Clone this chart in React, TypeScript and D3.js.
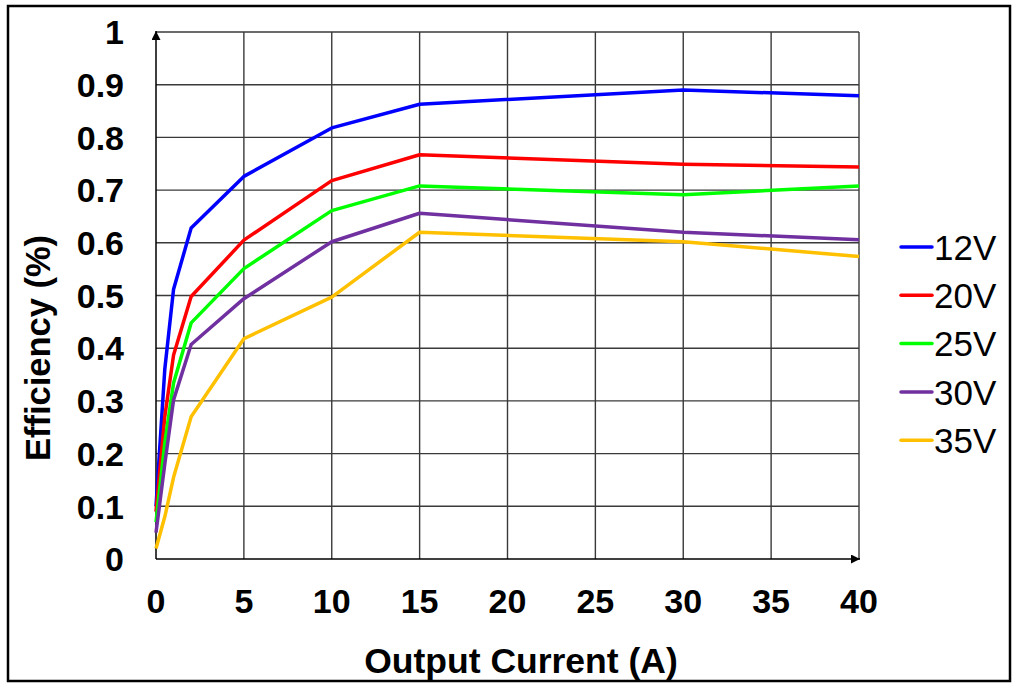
import React from "react";
import * as d3 from "d3";

const currents = [0, 0.5, 1, 2, 5, 10, 15, 30, 40];
const v12 = [0.1, 0.36, 0.512, 0.628, 0.726, 0.818, 0.863, 0.89, 0.879];
const v20 = [0.09, 0.27, 0.387, 0.498, 0.605, 0.718, 0.767, 0.749, 0.744];
const v25 = [0.07, 0.22, 0.334, 0.448, 0.551, 0.661, 0.708, 0.691, 0.708];
const v30 = [0.05, 0.18, 0.302, 0.407, 0.494, 0.602, 0.656, 0.62, 0.606];
const v35 = [0.02, 0.08, 0.155, 0.27, 0.418, 0.497, 0.62, 0.602, 0.574];
const seriesNames = ["12V", "20V", "25V", "30V", "35V"];
const seriesColors = ["#0000FF", "#FF0000", "#00FF00", "#7030A0", "#FFC000"];
const seriesValues = [v12, v20, v25, v30, v35];
const xTicks = [0, 5, 10, 15, 20, 25, 30, 35, 40];
const yTicks = [0, 0.1, 0.2, 0.3, 0.4, 0.5, 0.6, 0.7, 0.8, 0.9, 1];

export default function App() {
  const W = 1013, H = 683;
  const x = d3.scaleLinear().domain([0, 40]).range([156, 859]);
  const y = d3.scaleLinear().domain([0, 1]).range([559, 32]);
  const line = d3.line<[number, number]>().x(d => x(d[0])).y(d => y(d[1]));
  const font = "'Liberation Sans', Arial, sans-serif";
  return (
    <div style={{ position: "fixed", left: 0, top: 0 }}>
      <svg width={W} height={H} style={{ display: "block", background: "#fff" }}>
        <defs>
          <marker id="arr" viewBox="0 0 10 10" refX="10" refY="5" markerWidth="9" markerHeight="9" markerUnits="userSpaceOnUse" orient="auto">
            <path d="M0,0 L10,5 L0,10 z" fill="#000" />
          </marker>
        </defs>
        <rect x={8} y={6} width={1002} height={675} fill="none" stroke="#000" strokeWidth={2.5} />
        {xTicks.filter(t => t > 0).map(t => (
          <line key={"gx" + t} x1={x(t)} x2={x(t)} y1={y(1)} y2={y(0)} stroke="#3a3a3a" strokeWidth={1.4} />
        ))}
        {yTicks.filter(t => t > 0).map(t => (
          <line key={"gy" + t} x1={x(0)} x2={x(40)} y1={y(t)} y2={y(t)} stroke="#3a3a3a" strokeWidth={1.4} />
        ))}
        <line x1={x(0)} x2={x(0)} y1={y(0)} y2={y(1) - 1} stroke="#000" strokeWidth={1.5} markerEnd="url(#arr)" />
        <line x1={x(0)} x2={x(40) + 1} y1={y(0)} y2={y(0)} stroke="#000" strokeWidth={1.5} markerEnd="url(#arr)" />
        {seriesValues.map((vals, i) => (
          <path key={"s" + i} d={line(currents.map((c, j) => [c, vals[j]] as [number, number])) || ""}
            fill="none" stroke={seriesColors[i]} strokeWidth={3.5} strokeLinejoin="round" />
        ))}
        {yTicks.map(t => (
          <text key={"yl" + t} x={124} y={y(t)} dy="0.36em" textAnchor="end" fontFamily={font} fontWeight="bold" fontSize={34}>
            {t === 0 || t === 1 ? String(t) : t.toFixed(1)}
          </text>
        ))}
        {xTicks.map(t => (
          <text key={"xl" + t} x={x(t)} y={613} textAnchor="middle" fontFamily={font} fontWeight="bold" fontSize={34}>{t}</text>
        ))}
        <text x={521} y={673} textAnchor="middle" fontFamily={font} fontWeight="bold" fontSize={35.5}>Output Current (A)</text>
        <text transform="translate(50,348) rotate(-90)" textAnchor="middle" fontFamily={font} fontWeight="bold" fontSize={34.5}>Efficiency (%)</text>
        {seriesNames.map((n, i) => (
          <g key={"lg" + i} transform={`translate(0, ${247 + i * 48.3})`}>
            <line x1={901} x2={932} y1={0} y2={0} stroke={seriesColors[i]} strokeWidth={3.5} strokeLinecap="round" />
            <text x={934} y={0} dy="0.36em" fontFamily={font} fontSize={35}>{n}</text>
          </g>
        ))}
      </svg>
    </div>
  );
}
